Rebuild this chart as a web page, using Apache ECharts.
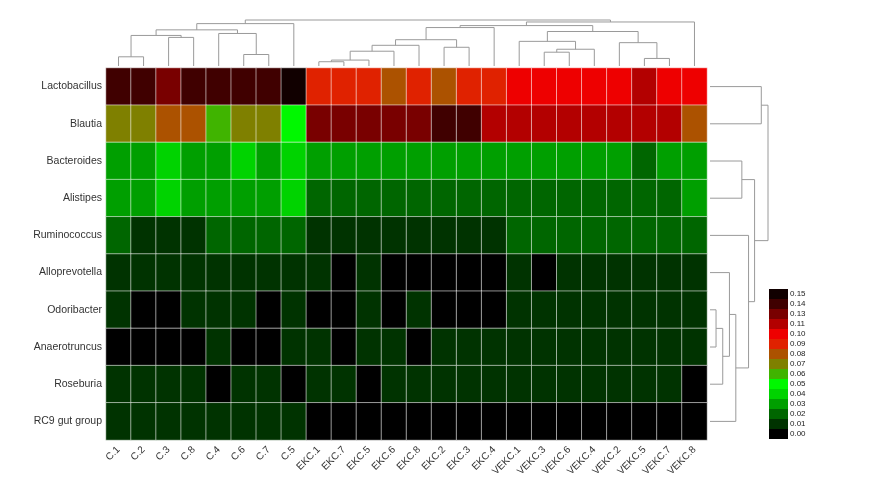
<!DOCTYPE html>
<html>
<head>
<meta charset="utf-8">
<script src="https://cdn.jsdelivr.net/npm/echarts@6/dist/echarts.min.js"></script>
<style>
  html, body { margin: 0; padding: 0; background: #fff; }
  #chart { width: 869px; height: 496px; }
</style>
</head>
<body>
<div id="chart"></div>
<script>
// samples (columns) in dendrogram order
var samples = ['C.1', 'C.2', 'C.3', 'C.8', 'C.4', 'C.6', 'C.7', 'C.5',
    'EKC.1', 'EKC.7', 'EKC.5', 'EKC.6', 'EKC.8', 'EKC.2', 'EKC.3', 'EKC.4',
    'VEKC.1', 'VEKC.3', 'VEKC.6', 'VEKC.4', 'VEKC.2', 'VEKC.5', 'VEKC.7', 'VEKC.8'];

// genera (rows), top to bottom
var genera = ['Lactobacillus', 'Blautia', 'Bacteroides', 'Alistipes', 'Ruminococcus',
    'Alloprevotella', 'Odoribacter', 'Anaerotruncus', 'Roseburia', 'RC9 gut group'];

// relative abundance per genus, one row per genus
var abundance = [
    [.14, .14, .13, .14, .14, .14, .14, .15, .09, .09, .09, .08, .09, .08, .09, .09, .10, .10, .10, .10, .10, .11, .10, .10],
    [.07, .07, .08, .08, .06, .07, .07, .05, .13, .13, .13, .13, .13, .14, .14, .11, .11, .11, .11, .11, .11, .11, .11, .08],
    [.03, .03, .04, .03, .03, .04, .03, .04, .03, .03, .03, .03, .03, .03, .03, .03, .03, .03, .03, .03, .03, .02, .03, .03],
    [.03, .03, .04, .03, .03, .03, .03, .04, .02, .02, .02, .02, .02, .02, .02, .02, .02, .02, .02, .02, .02, .02, .02, .03],
    [.02, .01, .01, .01, .02, .02, .02, .02, .01, .01, .01, .01, .01, .01, .01, .01, .02, .02, .02, .02, .02, .02, .02, .02],
    [.01, .01, .01, .01, .01, .01, .01, .01, .01, 0, .01, 0, 0, 0, 0, 0, .01, 0, .01, .01, .01, .01, .01, .01],
    [.01, 0, 0, .01, .01, .01, 0, .01, 0, 0, .01, 0, .01, 0, 0, 0, .01, .01, .01, .01, .01, .01, .01, .01],
    [0, 0, 0, 0, .01, 0, 0, .01, .01, 0, .01, .01, 0, .01, .01, .01, .01, .01, .01, .01, .01, .01, .01, .01],
    [.01, .01, .01, .01, 0, .01, .01, 0, .01, .01, 0, .01, .01, .01, .01, .01, .01, .01, .01, .01, .01, .01, .01, 0],
    [.01, .01, .01, .01, .01, .01, .01, .01, 0, 0, 0, 0, 0, 0, 0, 0, 0, 0, 0, 0, 0, 0, 0, 0]
];

// colour key
var keyLevels = [0, .01, .02, .03, .04, .05, .06, .07, .08, .09, .10, .11, .13, .14, .15];
var keyColors = ['#000000', '#003300', '#006600', '#009f00', '#00d300', '#00f800', '#40b400',
    '#7f8000', '#ac5200', '#e02200', '#ee0000', '#b30000', '#790000', '#400000', '#110000'];

// column clustering: [left, right, height]; numbers refer to earlier merges
var colMerges = [
    ['C.1', 'C.2', 28],       // 0
    ['C.3', 'C.8', 87],       // 1
    [0, 1, 93],               // 2
    ['C.6', 'C.7', 35],       // 3
    ['C.4', 3, 99],           // 4
    [2, 4, 110],              // 5
    [5, 'C.5', 129],          // 6
    ['EKC.1', 'EKC.7', 13],   // 7
    [7, 'EKC.5', 18],         // 8
    [8, 'EKC.6', 45],         // 9
    [9, 'EKC.8', 63],         // 10
    ['EKC.2', 'EKC.3', 57],   // 11
    [10, 11, 80],             // 12
    [12, 'EKC.4', 117],       // 13
    ['VEKC.3', 'VEKC.6', 42], // 14
    [14, 'VEKC.4', 51],       // 15
    ['VEKC.1', 15, 75],       // 16
    ['VEKC.5', 'VEKC.7', 23], // 17
    ['VEKC.2', 17, 71],       // 18
    [16, 18, 105],            // 19
    [13, 19, 123],            // 20
    [20, 'VEKC.8', 134],      // 21
    [6, 21, 140]              // 22
];

// row clustering
var rowMerges = [
    ['Odoribacter', 'Anaerotruncus', 18],  // 0
    [0, 'Roseburia', 38],                  // 1
    ['Alloprevotella', 1, 58],             // 2
    [2, 'RC9 gut group', 77],              // 3
    ['Ruminococcus', 3, 115],              // 4
    ['Bacteroides', 'Alistipes', 95],      // 5
    [5, 4, 133],                           // 6
    ['Lactobacillus', 'Blautia', 153],     // 7
    [7, 6, 173]                            // 8
];

function treeSegments(merges, leaves) {
    var pos = [], segs = [];
    function place(ref) {
        if (typeof ref === 'number') return pos[ref];
        return [leaves.indexOf(ref), 0];
    }
    merges.forEach(function (m, i) {
        var a = place(m[0]), b = place(m[1]);
        segs.push([a[0], b[0], m[2], a[1], b[1]]);
        pos[i] = [(a[0] + b[0]) / 2, m[2]];
    });
    return segs;
}

function renderTree(flip) {
    return function (params, api) {
        var p1 = api.value(0), p2 = api.value(1), h = api.value(2);
        var pts = [[p1, api.value(3)], [p1, h], [p2, h], [p2, api.value(4)]].map(function (p) {
            return api.coord(flip ? [p[1], p[0]] : p);
        });
        return {
            type: 'polyline',
            shape: { points: pts },
            style: { stroke: '#9a9a9a', lineWidth: 1, fill: 'none' }
        };
    };
}

var cells = [];
abundance.forEach(function (row, r) {
    row.forEach(function (v, c) { cells.push([c, r, v]); });
});

var pieces = keyLevels.map(function (lv, i) {
    return { min: lv - 0.004, max: lv + 0.004, color: keyColors[i], label: lv.toFixed(2) };
});

var chart = echarts.init(document.getElementById('chart'));
chart.setOption({
    animation: false,
    textStyle: { fontFamily: 'Liberation Sans, Arial, sans-serif' },
    grid: [
        { left: 106, right: 162, top: 68, bottom: 56 },
        { left: 106, right: 162, top: 20, height: 46 },
        { left: 710, width: 58, top: 68, bottom: 56 }
    ],
    xAxis: [
        {
            type: 'category', data: samples, gridIndex: 0,
            axisLine: { show: false }, axisTick: { show: false },
            axisLabel: { rotate: 45, fontSize: 10, color: '#333', margin: 8, interval: 0 }
        },
        { type: 'value', gridIndex: 1, min: -0.5, max: samples.length - 0.5, show: false },
        { type: 'value', gridIndex: 2, min: 0, max: 173, show: false }
    ],
    yAxis: [
        {
            type: 'category', data: genera, gridIndex: 0, inverse: true,
            axisLine: { show: false }, axisTick: { show: false },
            axisLabel: { fontSize: 10.5, color: '#333', margin: 4 }
        },
        { type: 'value', gridIndex: 1, min: 0, max: 140, show: false },
        { type: 'value', gridIndex: 2, min: -0.5, max: genera.length - 0.5, inverse: true, show: false }
    ],
    visualMap: {
        type: 'piecewise',
        seriesIndex: 0,
        pieces: pieces,
        orient: 'vertical',
        left: 769, top: 289,
        itemWidth: 19, itemHeight: 10, itemGap: 0,
        itemSymbol: 'rect',
        align: 'left',
        textGap: 2,
        padding: 0,
        hoverLink: false,
        selectedMode: false,
        textStyle: { fontSize: 8, color: '#222' }
    },
    series: [
        {
            type: 'heatmap', xAxisIndex: 0, yAxisIndex: 0, data: cells,
            itemStyle: { borderColor: 'rgba(255,255,255,0.55)', borderWidth: 1 },
            emphasis: { disabled: true }
        },
        {
            type: 'custom', xAxisIndex: 1, yAxisIndex: 1,
            data: treeSegments(colMerges, samples),
            renderItem: renderTree(false), silent: true, clip: false
        },
        {
            type: 'custom', xAxisIndex: 2, yAxisIndex: 2,
            data: treeSegments(rowMerges, genera),
            renderItem: renderTree(true), silent: true, clip: false
        }
    ]
});
</script>
</body>
</html>
